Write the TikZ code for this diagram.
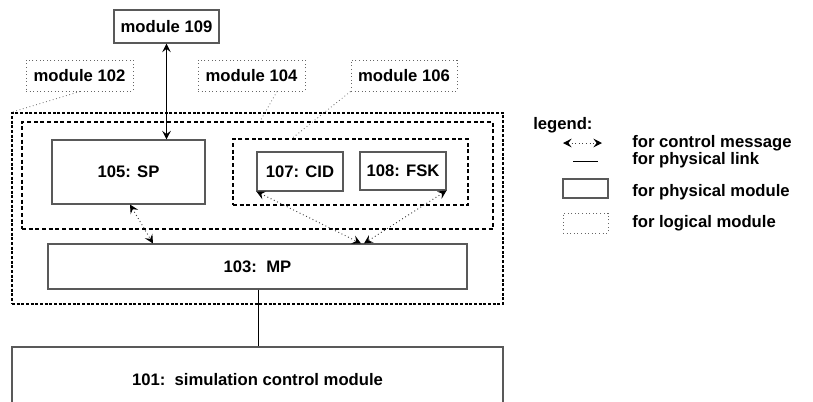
\documentclass[tikz,border=0pt]{standalone}
\usepackage{fontspec}
\setmainfont{Liberation Sans}
\usetikzlibrary{arrows.meta}
\tikzset{
  sz/.style 2 args={minimum width=#1*0.75pt, minimum height=#2*0.75pt},
  pbox/.style={draw=black!65, line width=0.8pt, rectangle, inner sep=0pt},
  lbox/.style={draw=black!60, dotted, line width=0.7pt, rectangle, inner sep=0pt},
  outerbox/.style={draw=black, line width=1pt, dash pattern=on 2.2pt off 1.3pt, rectangle, inner sep=0pt},
  innerbox/.style={draw=black, line width=0.9pt, dash pattern=on 3pt off 2pt, rectangle, inner sep=0pt},
  ctrl/.style={black!75, dotted, line width=0.7pt, {Stealth[length=6.5pt,width=6.5pt,inset=2.5pt,black]}-{Stealth[length=6.5pt,width=6.5pt,inset=2.5pt,black]}},
  phys/.style={black, line width=0.7pt},
  lblt/.style={anchor=west, inner sep=0pt},
  every node/.append style={font=\bfseries\fontsize{12.5}{14}\selectfont}
}
\begin{document}
\begin{tikzpicture}[x=0.75pt,y=-0.75pt]
\useasboundingbox (0,0) rectangle (813,401);
% logical modules
\node[lbox, sz={107}{31}] (m102) at (79.5,75.5) {module 102};
\node[lbox, sz={107}{31}] (m104) at (251.5,75.5) {module 104};
\node[lbox, sz={106}{31}] (m106) at (404,75.5) {module 106};
% physical module 109
\node[pbox, sz={105}{33}] (m109) at (166.5,26.5) {module 109};
% big logical containers
\node[outerbox, sz={491}{191}] (outer) at (257.5,208.5) {};
\node[innerbox, sz={471}{107}] (inner) at (257.5,175.5) {};
\node[innerbox, sz={235}{66}] (cf) at (350.5,172) {};
% physical modules
\node[pbox, sz={153}{64}] (sp) at (128.5,172) {105: SP};
\node[pbox, sz={86}{39}] (cid) at (300,171.5) {107: CID};
\node[pbox, sz={86}{38}] (fsk) at (403,171) {108: FSK};
\node[pbox, sz={419}{45}] (mp) at (257.5,266.5) {103:\ \ MP};
\node[pbox, sz={491}{66}] (sim) at (257.5,380) {101:\ \ simulation control module};
% logical links
\draw[black!60, dotted, line width=0.6pt] (80,0 |- m102.south) -- (outer.north west);
\draw[black!60, dotted, line width=0.6pt] (277,0 |- m104.south) -- (260,0 |- inner.north);
\draw[black!60, dotted, line width=0.6pt] (m106.south west) -- (292,0 |- cf.north);
% physical links
\draw[phys, {Stealth[length=6.5pt,width=6.5pt,inset=2.5pt]}-{Stealth[length=6.5pt,width=6.5pt,inset=2.5pt]}] (m109.south) -- (m109.south |- sp.north);
\draw[phys] (258,0 |- mp.south) -- (258,0 |- sim.north);
% control messages
\draw[ctrl] (130,0 |- sp.south) -- (153,0 |- mp.north);
\draw[ctrl] (cid.south west) -- (361,0 |- mp.north);
\draw[ctrl] (fsk.south east) -- (364,0 |- mp.north);
% legend
\node[lblt] (lg) at (533,125) {legend:};
\coordinate (la1) at (563,143);
\coordinate (la2) at (602,143);
\draw[ctrl] (la1) -- (la2);
\coordinate (ll1) at (573,161);
\coordinate (ll2) at (598,161);
\draw[phys] (ll1) -- (ll2);
\node[pbox, sz={45}{19}] (lpb) at (585.5,188.5) {};
\node[lbox, sz={45}{20}] (llb) at (585.5,223) {};
\node[lblt, align=left, font=\bfseries\fontsize{12.5}{9.2}\selectfont] (t12) at (632,152) {for control message\\for physical link};
\node[lblt] (t3) at (632,192) {for physical module};
\node[lblt] (t4) at (632,223) {for logical module};
\end{tikzpicture}
\end{document}
